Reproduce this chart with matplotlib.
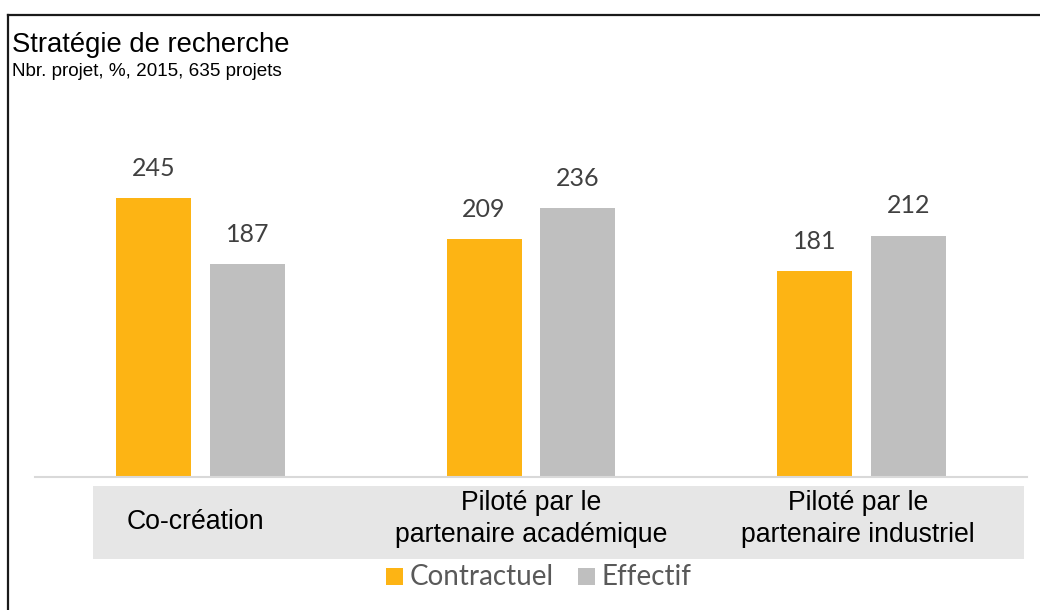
import matplotlib
matplotlib.use("Agg")
import matplotlib.pyplot as plt
import numpy as np
from matplotlib.patches import Rectangle
from matplotlib.lines import Line2D
from matplotlib.transforms import blended_transform_factory

# data
categories = ["Co-création",
              "Piloté par le\npartenaire académique",
              "Piloté par le\npartenaire industriel"]
series = ["Contractuel", "Effectif"]
contractuel = [245, 209, 181]
effectif = [187, 236, 212]
colors = ["#FDB414", "#BFBFBF"]

W, H = 1040, 610
fig = plt.figure(figsize=(W / 100, H / 100), dpi=100)

def fx(px):
    return px / W

def fy(py):
    return 1 - py / H

ax = fig.add_axes([fx(35), fy(477), fx(1027) - fx(35), fy(100) - fy(477)])

x = np.arange(len(categories))
off = 0.142
width = 0.227
for vals, dx, c in [(contractuel, -off, colors[0]), (effectif, off, colors[1])]:
    bars = ax.bar(x + dx, vals, width, color=c, zorder=2)
    for b, v in zip(bars, vals):
        ax.annotate(str(v), (b.get_x() + b.get_width() / 2, v),
                    xytext=(0, 16), textcoords='offset points',
                    ha='center', va='baseline', fontsize=18,
                    family=['Lato', 'DejaVu Sans'], color='#404040')

ax.set_xlim(-0.5, 2.5)
ax.set_ylim(0, 331)
ax.set_xticks([])
ax.set_yticks([])
for s in ['top', 'right', 'left']:
    ax.spines[s].set_visible(False)
ax.spines['bottom'].set_color('#D9D9D9')
ax.spines['bottom'].set_linewidth(1.5)

# grey band with category names
fig.patches.append(Rectangle((fx(93), fy(559)), fx(1024) - fx(93), fy(486) - fy(559),
                             transform=fig.transFigure, facecolor='#E6E6E6',
                             edgecolor='none', zorder=-1))
trans = blended_transform_factory(ax.transData, fig.transFigure)
label_x = [-0.015, 0, -0.012]
label_y = [522, 519, 519]
for i, cat in enumerate(categories):
    ax.text(i + label_x[i], fy(label_y[i]), cat, transform=trans, ha='center',
            va='center', fontsize=19.2, family=['Liberation Sans', 'DejaVu Sans'],
            linespacing=1.3, clip_on=False, zorder=5)

# title
fig.text(fx(12), fy(45), "Stratégie de recherche", ha='left', va='center',
         fontsize=19.8, family=['Liberation Sans', 'DejaVu Sans'])
fig.text(fx(12), fy(71), "Nbr. projet, %, 2015, 635 projets", ha='left', va='center',
         fontsize=13.6, family=['Liberation Sans', 'DejaVu Sans'])

# legend
leg_sq = [386, 578]
leg_tx = [410, 602]
for name, c, sq, tx in zip(series, colors, leg_sq, leg_tx):
    fig.patches.append(Rectangle((fx(sq), fy(585)), fx(17), 17 / H,
                                 transform=fig.transFigure, facecolor=c,
                                 edgecolor='none'))
    fig.text(fx(tx), fy(577), name, ha='left', va='center', fontsize=20,
             family=['Lato', 'DejaVu Sans'], color='#595959')

# frame lines
fig.add_artist(Line2D([fx(8), 1], [fy(15), fy(15)], color='#1a1a1a', lw=1.6,
                      transform=fig.transFigure))
fig.add_artist(Line2D([fx(8), fx(8)], [fy(15), 0], color='#1a1a1a', lw=1.6,
                      transform=fig.transFigure))

fig.savefig("out.png", dpi=100)
